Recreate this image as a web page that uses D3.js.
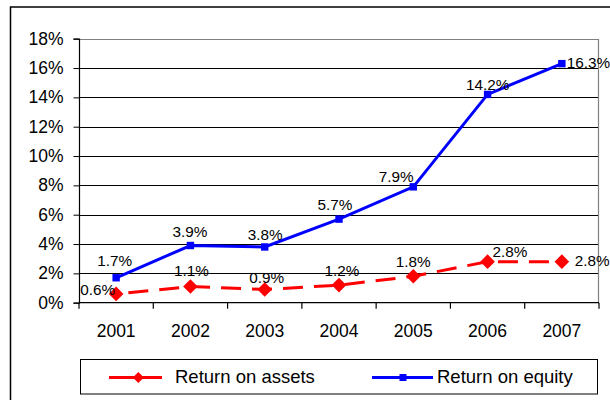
<!DOCTYPE html>
<html><head><meta charset="utf-8">
<script src="https://cdn.jsdelivr.net/npm/d3@7"></script>
<style>
html,body{margin:0;padding:0;background:#fff;}
svg{display:block;font-family:"Liberation Sans",Arial,sans-serif;}
</style></head>
<body>
<svg id="chart" width="610" height="400"></svg>
<script>
const years = ["2001","2002","2003","2004","2005","2006","2007"];
const returnOnAssets = [0.6, 1.1, 0.9, 1.2, 1.8, 2.8, 2.8];
const returnOnEquity = [1.7, 3.9, 3.8, 5.7, 7.9, 14.2, 16.3];
const yTicks = [0, 2, 4, 6, 8, 10, 12, 14, 16, 18];
const seriesNames = ["Return on assets", "Return on equity"];

// label placement (anchor, dx, dy) per point
const roaLabelPlace = [["end",-1,1],["middle",1,-10.6],["middle",2,-6.2],["middle",3,-9.4],["middle",0,-9],["start",5,-4.6],["start",13,4]];
const roeLabelPlace = [["middle",-1.5,-12],["middle",-0.5,-8.5],["middle",0.5,-7.3],["middle",-4,-8.7],["middle",-17,-4.4],["middle",0,-4.7],["start",5,4]];

const svg = d3.select("#chart");
const L = 79, R = 599, T = 38.7, B = 302.7;
const x = d3.scaleBand().domain(years).range([L, R]);
const y = d3.scaleLinear().domain([0, 18]).range([B, T]);
const cx = d => x(d) + x.bandwidth() / 2;

// outer chart border
svg.append("path").attr("d", `M10.5,420 V7 H620`).attr("fill", "none").attr("stroke", "#000").attr("stroke-width", 1.5);

// gridlines
svg.append("g").selectAll("line").data(yTicks.filter(t => t > 0 && t < 18)).join("line")
  .attr("x1", L).attr("x2", R).attr("y1", d => Math.round(y(d)) + 0.5).attr("y2", d => Math.round(y(d)) + 0.5)
  .attr("stroke", "#000").attr("stroke-width", 1);

// plot border (top/right grey)
svg.append("path").attr("d", `M${L},${Math.round(T)+0.5} H${R-0.5} V${B}`).attr("fill", "none").attr("stroke", "#808080").attr("stroke-width", 1.2);

// y axis
const yAxis = svg.append("g").attr("transform", `translate(${L},0)`)
  .call(d3.axisLeft(y).tickValues(yTicks).tickFormat(d => d + "%").tickSize(5.5).tickPadding(10));
yAxis.select(".domain").attr("stroke", "#000").attr("stroke-width", 1.2);
yAxis.selectAll(".tick line").attr("stroke", "#000");
yAxis.selectAll(".tick text").attr("font-size", "17.5px").attr("fill", "#000").attr("font-family", "Liberation Sans, Arial, sans-serif");

// x axis
const xAxis = svg.append("g").attr("transform", `translate(0,${B})`)
  .call(d3.axisBottom(x).tickSize(0).tickPadding(21.5));
xAxis.select(".domain").remove();
xAxis.selectAll(".tick text").attr("font-size", "17.5px").attr("fill", "#000").attr("font-family", "Liberation Sans, Arial, sans-serif");
svg.append("line").attr("x1", L).attr("x2", R).attr("y1", B).attr("y2", B).attr("stroke", "#000").attr("stroke-width", 1.2);
svg.append("g").selectAll("line").data(years.concat(["end"])).join("line")
  .attr("x1", d => d === "end" ? R : x(d)).attr("x2", d => d === "end" ? R : x(d))
  .attr("y1", B).attr("y2", B + 6).attr("stroke", "#000").attr("stroke-width", 1.2);

// lines
const line = d3.line().x((d, i) => cx(years[i])).y(d => y(d));
svg.append("path").datum(returnOnEquity).attr("d", line).attr("fill", "none")
  .attr("stroke", "#0000FF").attr("stroke-width", 3);
svg.append("path").datum(returnOnAssets).attr("d", line).attr("fill", "none")
  .attr("stroke", "#FF0000").attr("stroke-width", 3).attr("stroke-dasharray", "20,11").attr("stroke-dashoffset", 18.7);

// markers
svg.append("g").selectAll("rect").data(returnOnEquity).join("rect")
  .attr("x", (d, i) => cx(years[i]) - 3.7).attr("y", d => y(d) - 3.7)
  .attr("width", 7.4).attr("height", 7.4).attr("fill", "#0000FF");
const diamond = (px, py, r) => `M${px},${py - r} L${px + r},${py} L${px},${py + r} L${px - r},${py} Z`;
svg.append("g").selectAll("path").data(returnOnAssets).join("path")
  .attr("d", (d, i) => diamond(cx(years[i]), y(d), 7.3)).attr("fill", "#FF0000");

// data labels
function labels(data, place) {
  svg.append("g").selectAll("text").data(data).join("text")
    .attr("x", (d, i) => cx(years[i]) + place[i][1])
    .attr("y", (d, i) => y(d) + place[i][2])
    .attr("text-anchor", (d, i) => place[i][0])
    .attr("font-size", "15.3px").attr("fill", "#000")
    .text(d => d.toFixed(1) + "%");
}
labels(returnOnEquity, roeLabelPlace);
labels(returnOnAssets, roaLabelPlace);

// legend
const lg = svg.append("g");
lg.append("rect").attr("x", 80.5).attr("y", 359.5).attr("width", 517).attr("height", 34.5)
  .attr("fill", "#fff").attr("stroke", "#000").attr("stroke-width", 1);
const ly = 377.5;
lg.append("line").attr("x1", 109).attr("x2", 162).attr("y1", ly).attr("y2", ly).attr("stroke", "#FF0000").attr("stroke-width", 3);
lg.append("path").attr("d", diamond(138.3, ly, 5.5)).attr("fill", "#FF0000");
lg.append("text").attr("x", 175).attr("y", 382.5).attr("font-size", "18.5px").attr("fill", "#000").text(seriesNames[0]);
lg.append("line").attr("x1", 372).attr("x2", 433).attr("y1", ly).attr("y2", ly).attr("stroke", "#0000FF").attr("stroke-width", 3);
lg.append("rect").attr("x", 403 - 3.5).attr("y", ly - 3.5).attr("width", 7).attr("height", 7).attr("fill", "#0000FF");
lg.append("text").attr("x", 437).attr("y", 382.5).attr("font-size", "18.5px").attr("fill", "#000").text(seriesNames[1]);
</script>
</body></html>
